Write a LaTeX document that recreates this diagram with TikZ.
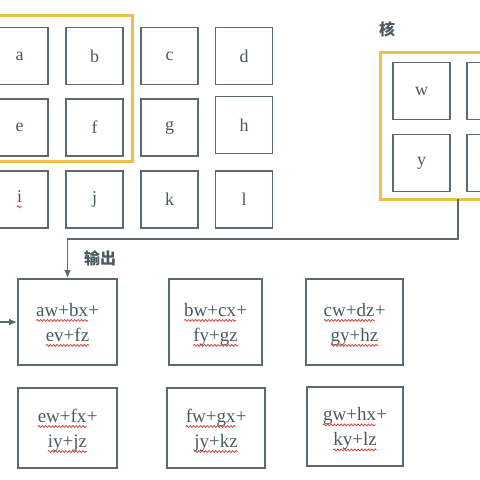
\documentclass[tikz,border=0pt]{standalone}
\usepackage{fontspec}
\setmainfont{Liberation Serif}
\newfontfamily\cjk{Noto Sans CJK SC}
\usetikzlibrary{decorations.pathmorphing,arrows.meta}
\definecolor{boxcol}{HTML}{5A6A70}
\definecolor{txtcol}{HTML}{4A5A60}
\definecolor{ylw}{HTML}{F0BE4A}
\definecolor{sqcol}{HTML}{C8443E}
\newcommand\sq[1]{\tikz[baseline=(s.base)]{\node[draw=none,fill=none,inner sep=0pt,outer sep=0pt,minimum size=0pt,text=txtcol,anchor=base] (s) at (0,0) {#1};\draw[draw=sqcol,line width=0.75pt,decorate,decoration={snake,amplitude=1pt,segment length=3.4pt}] ([yshift=-4pt]s.base west) -- ([yshift=-4pt]s.base east);}}
\begin{document}
\begin{tikzpicture}[x=1pt,y=-1pt,
  cell/.style={draw=boxcol,line width=1.7pt,minimum width=57pt,minimum height=57pt,inner sep=0pt,text=txtcol,font=\fontsize{18}{20}\selectfont},
  frame/.style={draw=ylw,line width=3pt,inner sep=0pt},
  outbox/.style={draw=boxcol,line width=1.7pt,inner sep=0pt},
  outtxt/.style={inner sep=0pt,text=txtcol,align=center,font=\fontsize{19}{25}\selectfont},
  conn/.style={draw=boxcol,line width=1.6pt,-{Latex[length=8pt,width=7pt]}},
  lbl/.style={text=txtcol,font=\cjk\bfseries\fontsize{16}{18}\selectfont,inner sep=0pt}]
\useasboundingbox (0,0) rectangle (480,480);
\clip (0,0) rectangle (480,480);
% input grid
\node[cell] (a) at (19.5,56) {a};
\node[cell] (b) at (94.5,56) {b};
\node[cell] (c) at (169.5,56) {c};
\node[cell] (d) at (244,56) {d};
\node[cell] (e) at (19.5,127.5) {e};
\node[cell] (f) at (94.5,127.5) {f};
\node[cell] (g) at (169.5,127.5) {g};
\node[cell] (h) at (244,125) {h};
\node[cell] (i) at (19.5,199.5) {\sq{i}};
\node[cell] (j) at (94.5,199.5) {j};
\node[cell] (k) at (169.5,199.5) {k};
\node[cell] (l) at (244,199.5) {l};
\node[frame,minimum width=150pt,minimum height=146pt] (win) at (57,88) {};
% kernel
\node[lbl] (kl) at (387,29) {核};
\node[frame,minimum width=180pt,minimum height=147pt] (kf) at (470,125.5) {};
\node[cell] (w) at (421.5,91) {w};
\node[cell] (kx) at (495.5,91) {};
\node[cell] (y) at (421.5,163) {y};
\node[cell] (kz) at (495.5,163) {};
% output
\node[lbl] (ol) at (100,258) {输出};
\node[outbox,minimum width=99pt,minimum height=86pt] (o1) at (67.5,322) {};
\node[outbox,minimum width=93pt,minimum height=86pt] (o2) at (215.5,322) {};
\node[outbox,minimum width=97pt,minimum height=86pt] (o3) at (354.5,322) {};
\node[outbox,minimum width=99pt,minimum height=80pt] (o4) at (67.5,428) {};
\node[outbox,minimum width=98pt,minimum height=80pt] (o5) at (216,428) {};
\node[outbox,minimum width=96pt,minimum height=79pt] (o6) at (355,426.5) {};
\node[outtxt] (t1) at ([yshift=-3pt]o1.center) {\sq{aw+bx}+\\\sq{ev+fz}};
\node[outtxt] (t2) at ([yshift=-3pt]o2.center) {\sq{bw+cx}+\\\sq{fy+gz}};
\node[outtxt] (t3) at ([yshift=-3pt]o3.center) {\sq{cw+dz}+\\\sq{gy+hz}};
\node[outtxt] (t4) at ([yshift=-3pt]o4.center) {\sq{ew+fx}+\\\sq{iy+jz}};
\node[outtxt] (t5) at ([yshift=-3pt]o5.center) {\sq{fw+gx}+\\\sq{jy+kz}};
\node[outtxt] (t6) at ([yshift=-3pt]o6.center) {\sq{gw+hx}+\\\sq{ky+lz}};
% connectors
\coordinate (ks) at (458,199);
\coordinate (lin) at (0,322);
\draw[conn] (ks) -- (458,239) -| (o1.north);
\draw[conn] (lin) -- (o1.west);
\end{tikzpicture}
\end{document}
